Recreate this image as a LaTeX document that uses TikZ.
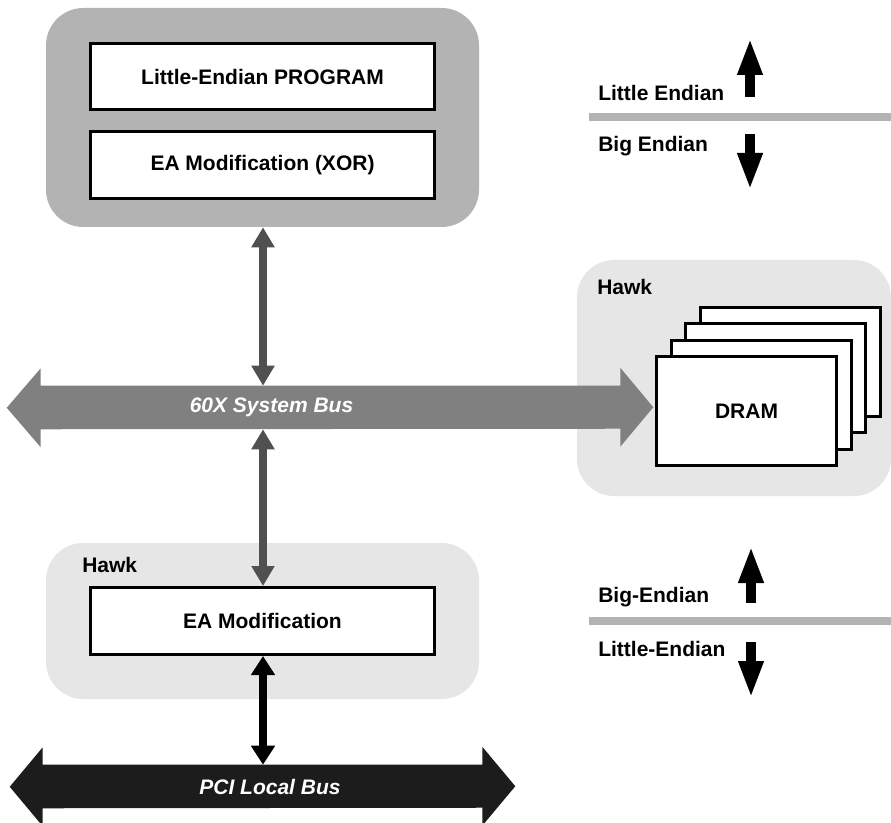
\documentclass[tikz,border=0pt]{standalone}
\usepackage{fontspec}
\setmainfont{Liberation Sans}
\usetikzlibrary{arrows.meta}
\definecolor{darkbox}{HTML}{B3B3B3}
\definecolor{lightbox}{HTML}{E6E6E6}
\definecolor{busgray}{HTML}{808080}
\definecolor{arrowgray}{HTML}{505050}
\definecolor{pciblack}{HTML}{1C1C1C}
\begin{document}
\begin{tikzpicture}[x=0.75pt,y=-0.75pt,
  lbl/.style={font=\fontsize{15.75}{18}\selectfont\bfseries, inner sep=0pt},
  whitebox/.style={lbl, draw=black, line width=2.25pt, fill=white, minimum width=258pt},
  group/.style={rounded corners=28pt, inner sep=0pt},
  busband/.style={inner sep=0pt, minimum height=32.25pt},
  buslbl/.style={inner sep=0pt, text=white, font=\fontsize{15.75}{18}\selectfont\bfseries\itshape},
  vgray/.style={draw=arrowgray, line width=6pt, {Triangle[length=15pt,width=16.5pt]}-{Triangle[length=15pt,width=16.5pt]}},
  vblack/.style={draw=black, line width=6pt, {Triangle[length=14.25pt,width=17.25pt]}-{Triangle[length=14.25pt,width=17.25pt]}},
  legarrow/.style={draw=black, line width=7.5pt, -{Triangle[length=27.75pt,width=17.25pt]}},
  legbar/.style={fill=darkbox, inner sep=0pt, minimum width=226.5pt, minimum height=6pt},
  dram/.style={lbl, draw=black, line width=2.25pt, fill=white, minimum width=135pt, minimum height=81.75pt}
]
\path[use as bounding box, fill=white] (0,0) rectangle (891,823);

% top CPU group
\node[group, fill=darkbox, minimum width=324.75pt, minimum height=164.25pt] (cpu) at (262.5,117.5) {};
\node[whitebox, minimum height=49.5pt] (prog) at (262.5,76.5) {Little-Endian PROGRAM};
\node[whitebox, minimum height=50.25pt] (xor) at (262.5,165) {EA Modification (XOR)};

% lower Hawk group
\node[group, fill=lightbox, minimum width=324.75pt, minimum height=117pt] (hawkpci) at (262.5,621) {};
\node[lbl, anchor=base west] (hawklbla) at (82,572.5) {Hawk};
\node[whitebox, minimum height=50.25pt] (eamod) at (262.5,621) {EA Modification};

% right Hawk group with DRAM
\node[group, fill=lightbox, minimum width=235.5pt, minimum height=177pt] (hawkmem) at (734,378) {};
\node[lbl, anchor=base west] (hawklblb) at (597,294.5) {Hawk};
\node[dram] (dramd) at (790.5,361.5) {};
\node[dram] (dramc) at (775.8,378) {};
\node[dram] (dramb) at (761.2,394.5) {};
\node[dram] (drama) at (746.5,411) {DRAM};

% 60X system bus
\node[busband, minimum width=434.25pt] (sysbus) at (330.5,407.5) {};
\fill[busgray] (sysbus.north west) -- (sysbus.north east) -- ++(0,-18) -- ++(33,39.5) -- ++(-33,39.5) -- ++(0,-18)
  -- (sysbus.south west) -- ++(0,18) -- ++(-34,-39.5) -- ++(34,-39.5) -- cycle;
\node[buslbl] (sysbuslbl) at (271.5,407.5) {60X System Bus};

% PCI local bus
\node[busband, minimum width=329.25pt] (pcibus) at (262.5,786.5) {};
\fill[pciblack] (pcibus.north west) -- (pcibus.north east) -- ++(0,-18) -- ++(33,39.5) -- ++(-33,39.5) -- ++(0,-18)
  -- (pcibus.south west) -- ++(0,18) -- ++(-33,-39.5) -- ++(33,-39.5) -- cycle;
\node[buslbl] (pcilbl) at (270,786.5) {PCI Local Bus};

% vertical connectors
\coordinate (ax) at (263,0);
\draw[vgray] (cpu.south -| ax) -- (sysbus.north -| ax);
\draw[vgray] (sysbus.south -| ax) -- (eamod.north -| ax);
\draw[vblack] (eamod.south -| ax) -- (pcibus.north -| ax);

% legend 1
\node[legbar] (bara) at (740,117) {};
\node[lbl, anchor=base west] (lea) at (598,100.5) {Little Endian};
\node[lbl, anchor=base west] (bea) at (598,151.5) {Big Endian};
\coordinate (upas) at (750,97);
\coordinate (upae) at (750,38);
\coordinate (dnas) at (750,134);
\coordinate (dnae) at (750,190);
\draw[legarrow] (upas) -- (upae);
\draw[legarrow] (dnas) -- (dnae);

% legend 2
\node[legbar] (barb) at (740,620.5) {};
\node[lbl, anchor=base west] (beb) at (598,602.5) {Big-Endian};
\node[lbl, anchor=base west] (leb) at (598,656.5) {Little-Endian};
\coordinate (upbs) at (751,603);
\coordinate (upbe) at (751,546);
\coordinate (dnbs) at (751,642);
\coordinate (dnbe) at (751,698);
\draw[legarrow] (upbs) -- (upbe);
\draw[legarrow] (dnbs) -- (dnbe);
\end{tikzpicture}
\end{document}
